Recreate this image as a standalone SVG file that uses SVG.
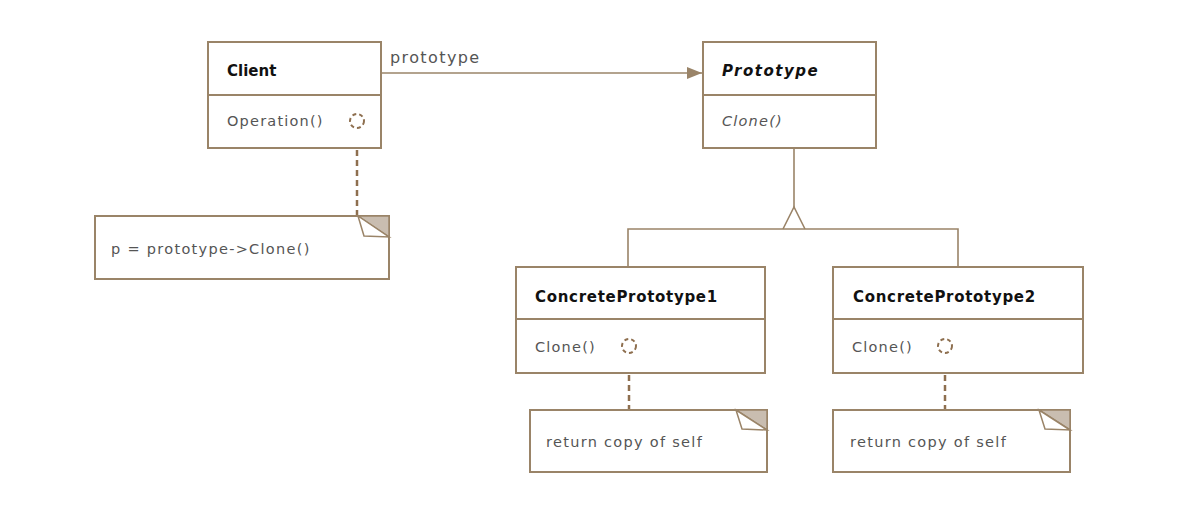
<svg xmlns="http://www.w3.org/2000/svg" width="1200" height="511" viewBox="0 0 1200 511">
<defs>
<style>
.box{fill:#fff;stroke:#9a8468;stroke-width:2}
.div{stroke:#9a8468;stroke-width:2}
.conn{fill:none;stroke:#9a8468;stroke-width:1.6}
.dash{fill:none;stroke:#8e6f4f;stroke-width:2.5;stroke-dasharray:6,4}
.circ{fill:none;stroke:#8e6f4f;stroke-width:2;stroke-dasharray:4,3}
.ear{fill:#c9bdb0;stroke:#9a8468;stroke-width:1.5}
.flap{fill:#fff;stroke:#9a8468;stroke-width:1.5}
.title{font-family:"DejaVu Sans",sans-serif;font-size:15px;font-weight:bold;fill:#111;letter-spacing:0.7px}
.op{font-family:"DejaVu Sans",sans-serif;font-size:14.5px;fill:#555;letter-spacing:1.2px}
.note{font-family:"DejaVu Sans",sans-serif;font-size:14.5px;fill:#555;letter-spacing:1.3px}
.lbl{font-family:"DejaVu Sans",sans-serif;font-size:16px;fill:#555;letter-spacing:1.4px}
</style>
<marker id="arrow" markerWidth="16" markerHeight="12" refX="15" refY="6" orient="auto" markerUnits="userSpaceOnUse">
<path d="M0,0 L15,6 L0,12 Z" fill="#9a8468"/>
</marker>
</defs>
<rect width="1200" height="511" fill="#fff"/>

<g id="connectors">
<line class="conn" x1="381" y1="73" x2="702" y2="73" marker-end="url(#arrow)"/>
<text class="lbl" x="390" y="63">prototype</text>
<line class="conn" x1="794" y1="148" x2="794" y2="207"/>
<path class="conn" d="M783,229 L794,207 L805,229"/>
<path class="conn" d="M628,267 L628,229 L958,229 L958,267"/>
<line class="dash" x1="357" y1="130" x2="357" y2="216"/>
<line class="dash" x1="629" y1="355" x2="629" y2="410"/>
<line class="dash" x1="945" y1="355" x2="945" y2="410"/>
</g>

<g id="client">
<rect class="box" x="208" y="42" width="173" height="106"/>
<line class="div" x1="208" y1="95" x2="381" y2="95"/>
<text class="title" x="227" y="76" style="letter-spacing:0">Client</text>
<text class="op" x="227" y="126">Operation()</text>
<circle class="circ" cx="357" cy="121" r="7"/>
</g>

<g id="prototype">
<rect class="box" x="703" y="42" width="173" height="106"/>
<line class="div" x1="703" y1="95" x2="876" y2="95"/>
<text class="title" x="722" y="76" font-style="italic" style="letter-spacing:1.5px">Prototype</text>
<text class="op" x="722" y="126" font-style="italic">Clone()</text>
</g>

<g id="cp1">
<rect class="box" x="516" y="267" width="249" height="106"/>
<line class="div" x1="516" y1="319" x2="765" y2="319"/>
<text class="title" x="535" y="302">ConcretePrototype1</text>
<text class="op" x="535" y="352">Clone()</text>
<circle class="circ" cx="629" cy="346" r="7"/>
</g>

<g id="cp2">
<rect class="box" x="833" y="267" width="250" height="106"/>
<line class="div" x1="833" y1="319" x2="1083" y2="319"/>
<text class="title" x="853" y="302">ConcretePrototype2</text>
<text class="op" x="852" y="352">Clone()</text>
<circle class="circ" cx="945" cy="346" r="7"/>
</g>

<g id="note-client">
<rect class="box" x="95" y="216" width="294" height="63"/>
<path class="ear" d="M358,216 L389,216 L389,237 Z"/>
<path class="flap" d="M358,216 L364,236 L389,237 Z"/>
<text class="note" x="111" y="254">p = prototype-&gt;Clone()</text>
</g>

<g id="note-cp1">
<rect class="box" x="530" y="410" width="237" height="62"/>
<path class="ear" d="M736,410 L767,410 L767,430 Z"/>
<path class="flap" d="M736,410 L742,429 L767,430 Z"/>
<text class="note" x="546" y="447">return copy of self</text>
</g>

<g id="note-cp2">
<rect class="box" x="833" y="410" width="237" height="62"/>
<path class="ear" d="M1039,410 L1070,410 L1070,430 Z"/>
<path class="flap" d="M1039,410 L1045,429 L1070,430 Z"/>
<text class="note" x="850" y="447">return copy of self</text>
</g>
</svg>
